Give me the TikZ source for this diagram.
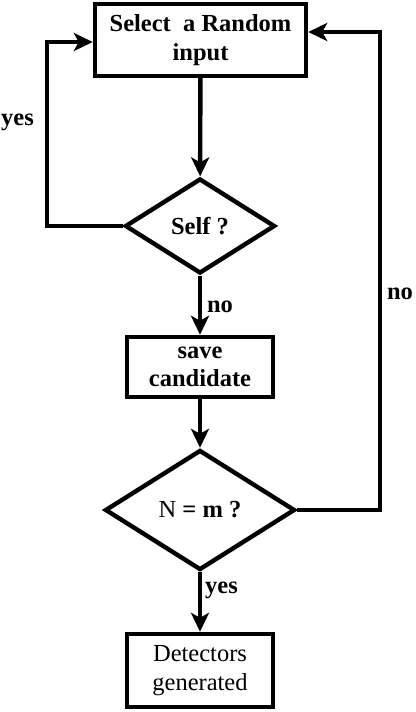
\documentclass[tikz,border=0pt]{standalone}
\usepackage{fontspec}
\setmainfont{Liberation Serif}
\usetikzlibrary{positioning,shapes,arrows.meta}

\begin{document}
\begin{tikzpicture}[x=10pt,y=10pt]
\tikzstyle{every node}+=[inner sep=0pt,font=\fontsize{24.5}{28.5}\selectfont\bfseries,align=center]
\tikzstyle{box}=[draw,line width=4.4pt,rectangle]
\tikzstyle{test}=[draw,line width=4.4pt,diamond,shape aspect=2]
\tikzstyle{flow}=[line width=4.4pt,-{Stealth[length=19pt,width=18pt,inset=5pt]}]
\useasboundingbox (0,0) rectangle (41.5,-71.2);
\node [box,minimum width=211pt,minimum height=72pt] (sel) at (20.05,-4.0) {Select\ \ a Random\\input};
\node [test,minimum width=150pt,minimum height=95pt] (self) at (20,-22.6) {Self ?};
\node [box,minimum width=146pt,minimum height=60pt] (save) at (20,-36.7) {save\\candidate};
\node [test,minimum width=190pt,minimum height=120pt] (nm) at (20,-51.0) {{\mdseries N} = m ?};
\node [box,minimum width=146pt,minimum height=73pt,font=\fontsize{24.5}{28.5}\selectfont] (det) at (20,-67.05) {Detectors\\generated};
\coordinate (lcorner) at (4.7,-4.2);
\coordinate (rcorner) at (38.0,-3.2);
\draw [flow] (sel) -- (self);
\draw [flow] (self) -- (save);
\draw [flow] (save) -- (nm);
\draw [flow] (nm) -- (det);
\draw [flow] (self.west) -| (lcorner) -- (lcorner -| sel.west);
\draw [flow] (nm.east) -| (rcorner) -- (rcorner -| sel.east);
\node (yesa) at (1.75,-12.2) {yes};
\node (noa) at (22.0,-30.7) {no};
\node (nob) at (40.0,-29.4) {no};
\node (yesb) at (22.15,-59.0) {yes};
\end{tikzpicture}
\end{document}
